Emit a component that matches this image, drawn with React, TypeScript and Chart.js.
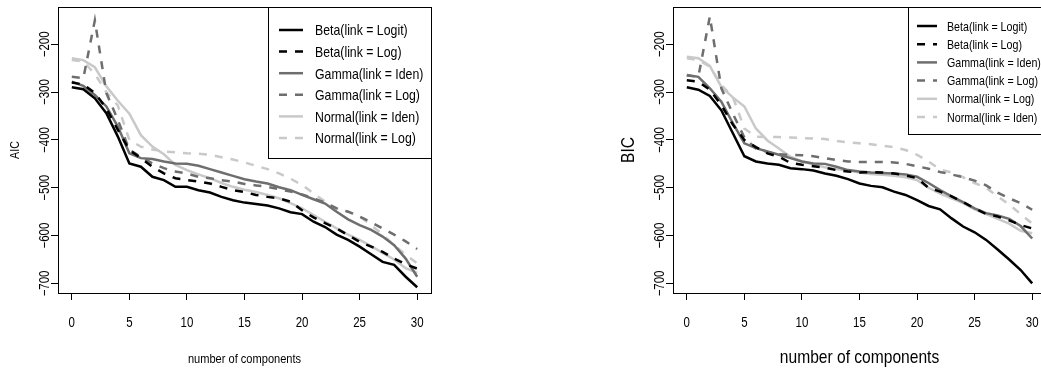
import { useEffect, useRef } from "react";
import { Chart, registerables } from "chart.js";
Chart.register(...registerables);

// ---------- data ----------
const components = [0, 1, 2, 3, 4, 5, 6, 7, 8, 9, 10, 11, 12, 13, 14, 15, 16, 17, 18, 19, 20, 21, 22, 23, 24, 25, 26, 27, 28, 29, 30];
const xTicks = [0, 5, 10, 15, 20, 25, 30];
const yTicks = [-700, -600, -500, -400, -300, -200];

const aicLabels = ["Beta(link = Logit)", "Beta(link = Log)", "Gamma(link = Iden)", "Gamma(link = Log)", "Normal(link = Iden)", "Normal(link = Log)"];
const bicLabels = ["Beta(link = Logit)", "Beta(link = Log)", "Gamma(link = Iden)", "Gamma(link = Log)", "Normal(link = Log)", "Normal(link = Iden)"];

const aicBetaLogit = [-290, -294, -313, -344, -393, -449, -456, -477, -484, -498, -498, -505, -510, -519, -526, -531, -534, -537, -543, -551, -555, -571, -582, -598, -609, -623, -639, -655, -661, -686, -708];
const aicBetaLog = [-280, -284, -302, -334, -379, -421, -438, -456, -470, -480, -484, -487, -491, -498, -505, -509, -515, -519, -522, -529, -547, -562, -574, -585, -599, -613, -623, -634, -648, -660, -669];
const aicGammaIden = [-278, -287, -306, -330, -372, -428, -438, -440, -445, -449, -450, -454, -461, -468, -475, -482, -487, -491, -499, -505, -515, -524, -533, -550, -566, -578, -588, -602, -620, -648, -686];
const aicGammaLog = [-268, -271, -150, -302, -358, -421, -435, -449, -459, -466, -470, -477, -480, -484, -487, -492, -495, -498, -503, -508, -514, -522, -531, -543, -550, -560, -572, -585, -598, -612, -628];
const aicNormalIden = [-229, -233, -248, -288, -318, -345, -390, -414, -430, -452, -463, -472, -480, -490, -498, -504, -509, -515, -522, -532, -543, -557, -571, -585, -598, -609, -622, -636, -650, -668, -678];
const aicNormalLog = [-233, -236, -262, -300, -328, -400, -414, -420, -424, -426, -428, -429, -431, -436, -441, -447, -454, -461, -470, -481, -494, -512, -529, -543, -550, -560, -578, -598, -620, -640, -658];

const bicBetaLogit = [-290, -295, -308, -338, -386, -434, -445, -449, -452, -459, -461, -464, -470, -475, -482, -491, -496, -499, -508, -515, -526, -538, -545, -564, -581, -593, -609, -629, -650, -672, -700];
const bicBetaLog = [-275, -278, -295, -327, -368, -400, -415, -428, -435, -448, -452, -455, -458, -463, -466, -468, -467, -468, -470, -474, -480, -500, -508, -518, -530, -543, -555, -560, -568, -578, -585];
const bicGammaIden = [-264, -268, -292, -320, -365, -407, -417, -424, -431, -438, -445, -449, -450, -456, -463, -466, -468, -469, -470, -472, -477, -490, -505, -518, -530, -543, -553, -558, -565, -580, -606];
const bicGammaLog = [-265, -268, -142, -292, -345, -395, -418, -425, -430, -431, -432, -434, -438, -442, -445, -446, -446, -446, -447, -450, -455, -460, -467, -472, -478, -485, -495, -510, -522, -532, -546];
const bicNormalLog = [-226, -229, -245, -289, -311, -330, -376, -401, -418, -435, -445, -451, -457, -461, -464, -468, -471, -473, -475, -478, -484, -500, -512, -522, -532, -545, -555, -565, -575, -590, -595];
const bicNormalIden = [-229, -233, -247, -285, -310, -376, -393, -394, -394, -395, -396, -397, -398, -402, -405, -407, -409, -412, -415, -421, -431, -445, -462, -468, -478, -490, -500, -518, -535, -555, -575];

// ---------- styles ----------
const COLORS = ["#000000", "#000000", "#6e6e6e", "#6e6e6e", "#c9c9c9", "#c9c9c9"];
const DASHES: number[][] = [[], [8, 8], [], [8, 8], [], [8, 8]];
const LINE_W = 2.5;
const FONT = '"Liberation Sans", Arial, Helvetica, sans-serif';
const NARROW = 0.82;

function drawText(ctx: CanvasRenderingContext2D, text: string, x: number, y: number, size: number, rotate = false, align: CanvasTextAlign = "center") {
  ctx.save();
  ctx.translate(x, y);
  if (rotate) ctx.rotate(-Math.PI / 2);
  ctx.scale(NARROW, 1);
  ctx.font = `${size}px ${FONT}`;
  ctx.textAlign = align;
  ctx.textBaseline = "alphabetic";
  ctx.fillStyle = "#000";
  ctx.fillText(text, 0, 0);
  ctx.restore();
}

type PanelCfg = {
  left: number;
  width: number;
  yAxisWidth: number;
  padRight: number;
  series: number[][];
  labels: string[];
  yTitle: string;
  yTitleSize: number;
  yTitleX: number;
  xTitleSize: number;
  legend: { x1: number; y1: number; x2: number; y2: number; s1: number; s2: number; tx: number; row0: number; dy: number; size: number };
};

function Panel({ cfg }: { cfg: PanelCfg }) {
  const ref = useRef<HTMLCanvasElement | null>(null);
  useEffect(() => {
    if (!ref.current) return;
    const datasets = cfg.series.map((vals, si) => ({
      label: cfg.labels[si],
      data: components.map((c, i) => ({ x: c, y: vals[i] })),
      borderColor: COLORS[si],
      borderWidth: LINE_W,
      borderDash: DASHES[si],
      pointRadius: 0,
      fill: false,
      tension: 0,
    }));
    const overlay = {
      id: "overlay",
      afterDraw(chart: any) {
        const { ctx, chartArea: ca, scales } = chart;
        const xs = scales.x;
        const ys = scales.y;
        ctx.save();
        ctx.strokeStyle = "#000";
        ctx.lineWidth = 1;
        ctx.setLineDash([]);
        ctx.strokeRect(Math.round(ca.left) + 0.5, Math.round(ca.top) + 0.5, Math.round(ca.right - ca.left), Math.round(ca.bottom - ca.top));
        ctx.restore();
        // x tick labels
        for (const v of xTicks) drawText(ctx, String(v), xs.getPixelForValue(v), 327, 14);
        // y tick labels (rotated)
        for (const v of yTicks) {
          const lab = v < 0 ? "\u2212" + Math.abs(v) : String(v);
          drawText(ctx, lab, ca.left - 14 + 0.358 * 14, ys.getPixelForValue(v), 14, true);
        }
        // titles
        drawText(ctx, cfg.yTitle, cfg.yTitleX + 0.358 * cfg.yTitleSize, (ca.top + ca.bottom) / 2, cfg.yTitleSize, true);
        drawText(ctx, "number of components", (ca.left + ca.right) / 2, 363, cfg.xTitleSize);
        // legend
        const L = cfg.legend;
        ctx.save();
        ctx.fillStyle = "#fff";
        ctx.fillRect(L.x1, L.y1, L.x2 - L.x1, L.y2 - L.y1);
        ctx.strokeStyle = "#000";
        ctx.lineWidth = 1;
        ctx.strokeRect(L.x1 + 0.5, L.y1 + 0.5, L.x2 - L.x1, L.y2 - L.y1);
        cfg.labels.forEach((lab, si) => {
          const cy = L.row0 + L.dy * si;
          ctx.beginPath();
          ctx.strokeStyle = COLORS[si];
          ctx.lineWidth = LINE_W;
          ctx.setLineDash(DASHES[si]);
          ctx.moveTo(L.s1, cy);
          ctx.lineTo(L.s2, cy);
          ctx.stroke();
          drawText(ctx, lab, L.tx, cy + 0.36 * L.size, L.size, false, "left");
        });
        ctx.restore();
      },
    };
    const chart = new Chart(ref.current, {
      type: "line",
      data: { datasets },
      options: {
        responsive: false,
        animation: false,
        devicePixelRatio: 1,
        layout: { padding: { left: 0, top: 7, right: cfg.padRight, bottom: 0 } },
        plugins: { legend: { display: false }, tooltip: { enabled: false } },
        scales: {
          x: {
            type: "linear",
            min: -1.2,
            max: 31.2,
            afterBuildTicks: (s: any) => {
              s.ticks = xTicks.map((v) => ({ value: v }));
            },
            afterFit: (s: any) => {
              s.height = 75;
            },
            ticks: { display: false },
            grid: { drawOnChartArea: false, drawTicks: true, tickLength: 7, color: "#000", lineWidth: 1 },
            border: { display: false },
          },
          y: {
            type: "linear",
            min: -720,
            max: -122,
            afterBuildTicks: (s: any) => {
              s.ticks = yTicks.map((v) => ({ value: v }));
            },
            afterFit: (s: any) => {
              s.width = cfg.yAxisWidth;
            },
            ticks: { display: false },
            grid: { drawOnChartArea: false, drawTicks: true, tickLength: 7, color: "#000", lineWidth: 1 },
            border: { display: false },
          },
        },
      } as any,
      plugins: [overlay],
    });
    return () => chart.destroy();
  }, [cfg]);
  return (
    <canvas
      ref={ref}
      width={cfg.width}
      height={368}
      style={{ position: "absolute", left: cfg.left, top: 0, width: cfg.width, height: 368 }}
    />
  );
}

const aicCfg: PanelCfg = {
  left: 0,
  width: 520,
  yAxisWidth: 58,
  padRight: 89,
  series: [aicBetaLogit, aicBetaLog, aicGammaIden, aicGammaLog, aicNormalIden, aicNormalLog],
  labels: aicLabels,
  yTitle: "AIC",
  yTitleSize: 13,
  yTitleX: 14,
  xTitleSize: 13.5,
  legend: { x1: 268, y1: 7, x2: 431, y2: 158, s1: 279, s2: 303, tx: 315, row0: 30, dy: 21.6, size: 15 },
};

const bicCfg: PanelCfg = {
  left: 520,
  width: 530,
  yAxisWidth: 153,
  padRight: 4,
  series: [bicBetaLogit, bicBetaLog, bicGammaIden, bicGammaLog, bicNormalLog, bicNormalIden],
  labels: bicLabels,
  yTitle: "BIC",
  yTitleSize: 19,
  yTitleX: 107,
  xTitleSize: 19,
  legend: { x1: 388, y1: 7, x2: 526, y2: 134, s1: 397, s2: 417, tx: 427, row0: 26, dy: 18.2, size: 13 },
};

export default function App() {
  return (
    <div style={{ position: "fixed", left: 0, top: 0, width: 1041, height: 368, overflow: "hidden", background: "#fff" }}>
      <Panel cfg={aicCfg} />
      <Panel cfg={bicCfg} />
    </div>
  );
}
